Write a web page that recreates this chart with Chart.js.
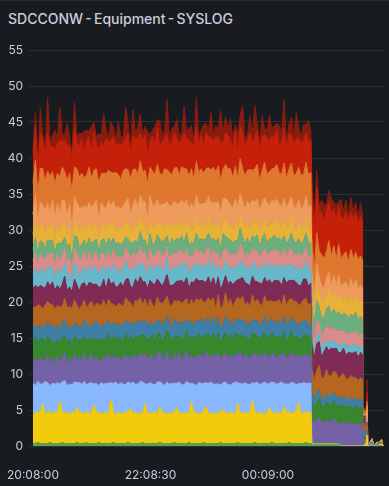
<!DOCTYPE html>
<html>
<head>
<meta charset="utf-8">
<script src="https://cdn.jsdelivr.net/npm/chart.js@4.4.1/dist/chart.umd.min.js"></script>
<style>
  html, body { margin: 0; padding: 0; background: #181b1f; }
  #panel { position: relative; width: 389px; height: 486px; overflow: hidden; }
  #topline { position: absolute; left: 0; top: 0; width: 389px; height: 1px; background: #2a2d33; }
  #title { position: absolute; left: 8px; top: 10px; font: 500 14px Inter, sans-serif; word-spacing: -1.5px; color: #ccccdc; white-space: nowrap; }
  canvas { position: absolute; left: 0; top: 0; }
</style>
</head>
<body>
<div id="panel">
  <div id="topline"></div>
  <div id="title">SDCCONW - Equipment - SYSLOG</div>
  <canvas id="syslogChart" width="389" height="486"></canvas>
</div>
<script>
// sample times, seconds after 20:08:00
const seg1Times = [];
for (let t = 0; t <= 17100; t += 150) seg1Times.push(t);
const seg2Times = [];
for (let t = 17160; t <= 20160; t += 150) seg2Times.push(t);
seg2Times.push(20250);
const tailTimes = [20280, 20370, 20430, 20490, 20550, 20610, 20700, 20850, 21000, 21150, 21300, 21450, 21540];
const times = seg1Times.concat(seg2Times, tailTimes);

const xTickValues = [0, 7230, 14460];
const xTickLabels = ['20:08:00', '22:08:30', '00:09:00'];

// series, bottom of the stack first
const green0 = [
  0.4,0.4,0.5,0.4,0.3,0.4,0.4,0.5,0.4,0.4, 0.3,0.4,0.5,0.4,0.4,0.4,0.3,0.4,0.5,0.4, 0.4,0.4,0.5,0.3,0.4,0.4,0.4,0.5,0.4,0.3,
  0.4,0.4,0.4,0.5,0.4,0.4,0.3,0.4,0.4,0.5, 0.4,0.4,0.4,0.3,0.4,0.5,0.4,0.4,0.4,0.4, 0.3,0.4,0.5,0.4,0.4,0.4,0.4,0.4,0.5,0.4,
  0.4,0.3,0.4,0.4,0.5,0.4,0.4,0.4,0.3,0.4, 0.5,0.4,0.4,0.4,0.4,0.3,0.4,0.5,0.4,0.4, 0.4,0.4,0.3,0.4,0.5,0.4,0.4,0.4,0.4,0.3,
  0.4,0.5,0.4,0.4,0.4,0.3,0.4,0.4,0.5,0.4, 0.4,0.4,0.4,0.3,0.4,0.5,0.4,0.4,0.4,0.4, 0.3,0.4,0.5,0.4,0.4,
  0.3,0.3,0.3,0.3,0.3,0.3,0.3,0.3,0.3,0.3,0.3,0.3,0,0,0,0,0,0,0,0,0,0,
  0,0,0,0,0,0,0,0.2,0,0,0.2,0,0];
const yellow = [
  4.2,4.1,4.3,4.2,5.6,4.1,4.2,4.3,4.0,4.4, 4.2,5.9,4.1,4.3,4.2,4.1,4.3,4.2,4.9,4.3, 4.2,4.1,4.4,4.2,4.1,5.3,4.2,4.3,4.0,4.2,
  4.3,4.1,6.1,4.2,4.0,4.3,4.2,4.1,4.4,4.2, 4.8,4.1,4.3,4.2,4.0,4.2,5.5,4.3,4.1,4.2, 4.4,4.1,5.0,4.2,4.3,4.0,4.2,4.1,4.3,4.9,
  4.2,4.1,4.3,4.2,4.0,5.8,4.2,4.3,4.1,4.2, 4.4,5.1,4.2,4.0,4.3,4.1,4.2,4.3,4.7,4.2, 4.1,4.3,4.2,4.0,5.4,4.2,4.3,4.1,4.2,4.4,
  6.0,4.2,4.1,4.3,4.2,4.0,4.3,4.9,4.2,4.1, 4.3,4.2,4.0,5.2,4.2,4.3,4.1,4.2,4.4,5.6, 4.2,4.1,4.3,4.2,4.2,
  0,0,0,0,0,0,0,0,0,0,0,0,0,0,0,0,0,0,0,0,0,0,
  0,0,0.3,0,1.5,0,0,0,0,0,0,0.3,0];
const lightBlue = [
  4.1,3.9,4.2,4.0,2.7,4.5,4.2,3.6,4.3,3.8, 4.3,2.3,4.3,4.4,3.8,4.1,3.9,4.3,3.4,4.1, 4.0,4.5,3.6,4.2,4.3,2.9,4.1,3.6,4.4,4.1,
  4.0,4.2,2.3,4.0,4.5,3.8,4.3,4.1,3.7,4.2, 3.5,4.4,3.9,4.1,4.6,4.2,2.7,3.9,4.3,4.0, 3.8,4.4,3.4,4.1,3.7,4.5,4.0,4.2,3.9,3.4,
  4.3,4.1,3.8,4.4,4.2,2.5,4.0,3.7,4.4,4.1, 3.8,3.3,4.1,4.5,3.9,4.2,4.0,3.7,3.7,4.3, 4.0,3.8,4.2,4.5,2.9,4.1,3.9,4.3,4.0,3.8,
  2.4,4.0,4.4,3.8,4.1,4.6,3.9,3.4,4.2,4.3, 3.9,4.1,4.5,3.1,4.0,3.8,4.3,4.2,3.7,2.7, 4.2,4.3,3.9,4.1,4.2,
  0,0,0,0,0,0,0,0,0,0,0,0,0,0,0,0,0,0,0,0,0,0,
  0,0,0,0,0,0,0,0,0,0,0,0,0];
const purple = [
  3.1,3.8,2.9,3.6,3.3,2.7,3.9,3.2,3.5,2.8, 3.7,3.0,3.4,3.9,2.9,3.6,3.2,3.8,3.0,3.5, 3.3,3.9,3.1,3.6,4.0,3.2,3.7,3.4,3.0,3.8,
  3.5,4.1,3.2,3.7,3.4,3.9,3.1,3.6,4.2,3.3, 3.8,3.5,4.1,3.2,3.9,3.6,4.3,3.4,3.7,4.0, 3.3,3.9,4.2,3.5,3.8,4.4,3.6,3.2,4.0,3.7,
  4.1,3.4,3.8,4.3,3.6,3.9,3.5,4.2,3.7,4.0, 3.6,4.4,3.8,3.5,4.1,3.9,4.3,3.4,3.8,4.0, 3.7,4.2,3.5,4.0,3.8,4.4,3.6,3.9,4.1,3.5,
  3.9,4.3,3.6,4.0,3.7,4.2,3.8,3.5,4.1,3.9, 3.6,4.0,3.8,4.3,3.5,3.9,4.2,3.7,4.0,3.6, 3.9,3.7,4.1,3.8,3.6,
  3.4,3.0,3.3,3.6,3.1,2.9,3.3,3.0,3.2,3.5,3.1,2.8,3.2,3.4,3.0,3.3,3.1,2.9,3.2,3.0,3.1,3.0,
  0,1.0,0.2,0,0.3,0,0,0,0,0,0,0,0];
const green = [
  2.5,2.9,2.2,2.7,3.1,2.4,2.6,3.0,2.3,2.8, 2.2,2.9,2.6,2.3,3.0,2.7,2.1,2.6,2.9,2.4, 2.7,2.3,3.1,2.6,2.2,2.9,2.5,2.8,3.1,2.3,
  2.6,2.9,2.2,2.8,2.4,3.0,2.6,2.3,2.9,2.5, 2.8,2.2,2.7,3.1,2.4,2.9,2.3,2.7,2.6,3.0, 2.4,2.8,2.5,2.2,2.9,2.7,3.1,2.4,2.6,2.8,
  2.3,3.0,2.6,2.8,2.2,2.7,2.9,2.5,3.1,2.4, 2.7,2.3,2.9,2.6,3.0,2.4,2.8,2.2,2.6,2.9, 2.5,2.8,2.3,3.0,2.7,2.4,2.9,2.6,2.2,2.8,
  3.0,2.5,2.7,2.3,2.9,2.6,2.4,3.1,2.7,2.5, 2.8,2.4,2.6,3.0,2.3,2.7,2.9,2.5,2.8,2.6, 2.4,2.9,2.6,2.7,2.5,
  2.5,2.1,2.4,2.7,2.2,2.0,2.6,2.3,2.2,2.5,2.1,2.4,2.6,2.2,2.3,2.0,2.5,2.2,2.4,2.1,2.3,2.2,
  0,0.4,0,0,0.2,0,0,0,0,0,0,0,0];
const teal = [
  2.1,1.7,2.3,1.9,1.6,2.4,2.0,1.8,2.5,1.9, 2.2,1.6,2.1,2.4,1.8,2.0,2.3,1.7,2.2,1.9, 1.8,2.4,2.0,1.6,2.2,1.9,2.5,2.1,1.7,2.3,
  2.0,1.8,2.4,1.9,2.2,1.6,2.1,2.3,1.8,2.5, 1.9,2.2,1.7,2.4,2.0,1.8,2.3,1.9,2.1,1.6, 2.3,2.0,1.8,2.5,1.9,2.2,1.7,2.1,2.4,1.8,
  2.0,2.3,1.9,1.7,2.4,2.1,1.8,2.2,2.0,2.5, 1.8,2.1,2.4,1.9,2.2,1.7,2.3,2.0,1.8,2.2, 2.4,1.9,2.1,1.7,2.3,2.0,2.5,1.8,2.2,1.9,
  2.1,1.8,2.3,2.0,1.6,2.4,1.9,2.2,2.0,1.8, 2.3,2.1,1.7,2.2,2.4,1.9,2.0,2.3,1.8,2.1, 1.9,2.2,2.0,1.8,2.1,
  1.3,1.0,1.4,1.2,0.9,1.3,1.1,1.5,1.0,1.2,1.4,1.1,1.0,1.3,1.2,0.9,1.3,1.1,1.2,1.0,1.2,1.1,
  0,0.6,0,0,0.3,0,0.2,0.3,0,0.2,0.3,0.2,0];
const brown = [
  2.9,2.5,3.2,2.7,2.4,3.1,2.8,3.3,2.6,2.9, 2.6,3.2,2.4,2.8,3.1,2.5,3.0,3.3,2.7,2.4, 3.1,2.7,2.5,3.2,2.9,2.6,2.4,3.0,2.8,3.3,
  2.5,2.9,3.2,2.6,2.4,2.8,3.1,2.5,3.2,2.9, 2.7,2.4,3.1,2.8,3.3,2.5,2.9,2.6,3.2,2.4, 2.8,3.1,2.5,2.9,3.2,2.6,2.7,3.0,2.5,3.1,
  2.9,2.6,3.3,2.7,2.4,3.0,2.8,3.2,2.6,2.9, 3.1,2.5,2.8,3.2,2.7,2.4,3.0,2.9,2.6,3.3, 2.6,3.0,2.7,2.5,3.1,2.8,3.2,2.4,2.9,2.7,
  3.2,2.6,2.9,3.0,2.5,2.8,3.3,2.7,2.4,3.0, 2.8,3.1,2.5,2.9,2.7,3.2,2.6,2.8,3.0,2.5, 2.9,2.7,3.1,2.6,2.8,
  3.2,2.7,3.1,3.4,2.8,3.0,3.3,2.6,3.1,2.9,3.3,2.7,3.0,3.2,2.8,3.1,2.9,3.3,2.7,3.0,2.9,3.0,
  0,1.2,0.2,0,0.6,0,0,0,0,0,0,0,0];
const maroon = [
  2.6,3.0,2.4,2.8,3.1,2.3,2.7,2.5,3.2,2.6, 2.8,2.5,3.0,3.1,2.4,2.7,2.3,2.9,2.8,2.5, 3.0,2.4,2.8,3.0,2.5,3.2,2.7,2.3,2.8,2.9,
  2.4,2.9,2.6,3.1,2.7,2.4,3.0,2.8,2.5,3.2, 2.3,2.8,3.0,2.5,2.9,3.1,2.4,2.7,2.6,3.0, 3.1,2.5,2.8,2.4,2.7,3.0,2.6,2.9,2.3,2.8,
  2.7,3.2,2.5,2.9,2.6,2.4,3.1,2.8,2.7,2.5, 3.0,2.6,2.9,2.3,2.8,3.1,2.5,2.7,3.0,2.4, 2.8,2.5,3.1,2.7,2.4,2.9,2.6,3.2,2.5,2.8,
  2.6,3.0,2.4,2.8,3.1,2.5,2.7,2.9,2.4,3.0, 2.9,2.6,2.8,2.4,3.1,2.7,2.5,2.9,2.6,2.8, 2.5,2.9,2.7,2.6,2.8,
  3.5,3.1,3.7,3.3,3.0,3.6,3.2,3.5,3.8,3.1,3.4,3.6,3.2,3.5,3.3,3.7,3.1,3.4,3.6,3.2,3.5,3.4,
  0,1.0,0,0,0.4,0,0,0,0,0,0,0,0];
const cyan = [
  2.0,2.4,1.7,2.2,2.5,1.8,2.1,2.6,1.9,1.6, 2.2,2.5,1.8,2.0,2.4,1.9,1.6,2.2,2.6,2.0, 1.8,2.3,1.9,2.2,1.7,2.5,2.0,1.8,2.4,1.9,
  2.2,1.7,2.0,2.5,1.8,2.3,1.9,2.1,2.6,1.7, 2.0,2.4,1.8,2.2,1.9,2.5,2.1,1.7,2.3,2.0, 2.2,1.8,2.5,2.0,1.9,2.3,1.7,2.1,2.4,1.9,
  2.1,2.5,1.8,2.2,2.0,1.7,2.4,2.1,1.9,2.3, 1.8,2.2,2.5,1.9,2.1,2.4,1.7,2.0,2.3,1.9, 2.4,1.8,2.1,2.2,1.7,2.5,2.0,1.9,2.3,2.1,
  1.9,2.3,2.0,1.8,2.4,2.1,1.7,2.2,2.5,2.0, 2.2,1.9,2.4,2.0,1.8,2.3,2.1,1.7,2.2,2.4, 2.0,1.8,2.3,2.1,1.9,
  1.1,0.8,1.2,0.9,1.3,0.8,1.0,1.2,0.9,1.1,0.7,1.0,1.2,0.9,1.1,0.8,1.0,1.2,0.9,1.0,1.1,1.0,
  0,0,0,0,0,0,0,0,0,0,0,0,0];
const pink = [
  1.8,2.2,1.6,2.1,1.5,2.3,1.9,1.7,2.2,1.8, 2.1,1.6,2.3,1.9,1.7,2.2,1.6,2.0,1.9,2.4, 1.7,2.1,1.8,2.2,1.5,1.9,2.3,1.8,2.1,1.6,
  2.2,1.9,1.6,2.1,2.4,1.8,1.7,2.2,1.9,2.0, 1.8,2.3,1.6,2.0,2.2,1.5,2.1,1.8,2.3,1.9, 1.7,2.1,1.9,2.2,1.8,1.6,2.0,2.3,1.8,2.1,
  2.2,1.7,2.0,1.8,2.4,1.9,1.6,2.1,2.0,1.8, 1.9,2.3,1.7,2.1,1.8,2.2,1.6,2.0,2.3,1.9, 2.1,1.8,2.2,1.6,2.0,2.4,1.9,1.7,2.1,2.2,
  1.8,2.0,2.3,1.7,2.1,1.9,2.2,1.6,2.0,2.3, 1.9,2.2,1.7,2.1,2.0,1.8,2.3,1.9,1.7,2.1, 2.0,1.8,2.2,1.9,2.0,
  1.9,1.6,2.1,1.7,1.5,2.0,1.8,2.2,1.6,1.9,1.7,2.1,1.8,1.5,2.0,1.7,1.9,1.6,2.0,1.8,1.6,1.8,
  0,0,0,0,0.5,0,0,0.5,0,0,0,0,0];
const lightGreen = [
  1.7,2.1,1.5,1.9,2.2,1.4,1.8,2.0,1.6,1.9, 1.6,2.2,1.8,1.5,2.0,1.9,1.4,1.8,2.2,1.7, 1.9,1.5,2.1,1.8,2.3,1.6,1.9,1.5,1.8,2.1,
  1.7,2.0,2.2,1.5,1.8,2.0,1.6,1.9,1.4,1.8, 2.1,1.6,1.9,1.5,2.2,1.8,1.6,2.0,1.9,1.5, 1.8,2.2,1.6,1.9,2.0,1.5,1.8,2.1,1.7,1.9,
  1.5,2.0,1.8,2.2,1.6,1.9,1.4,2.1,1.8,1.7, 2.0,1.6,1.9,2.2,1.5,1.8,2.0,1.7,2.3,1.6, 1.8,2.1,1.5,1.9,1.7,2.2,1.6,1.8,2.0,1.5,
  1.9,1.7,2.2,1.6,1.8,2.1,1.5,1.9,1.8,2.0, 1.6,1.9,2.1,1.7,1.8,1.5,2.2,1.8,1.6,2.0, 1.8,1.6,1.9,2.0,1.7,
  2.5,2.1,2.7,2.3,2.6,2.0,2.4,2.8,2.2,2.5,2.3,2.7,2.1,2.4,2.6,2.2,2.5,2.3,2.6,2.4,2.3,2.3,
  0,0,0,0,0,0,0,0,0,0,0,0,0];
const gold = [
  2.0,2.4,1.7,2.2,2.5,1.8,2.1,1.6,2.4,2.0, 2.3,1.8,2.5,2.1,1.7,2.2,1.9,2.4,1.8,2.1, 2.5,1.7,2.0,2.3,1.8,2.4,2.1,1.7,2.3,2.0,
  1.9,2.4,2.1,2.5,1.7,2.0,2.3,1.8,2.1,2.4, 1.7,2.0,2.3,2.1,1.8,2.5,2.0,1.7,2.3,2.2, 2.4,1.8,2.0,2.3,1.7,2.1,2.4,1.9,2.2,2.0,
  1.8,2.3,2.1,1.7,2.5,2.0,1.9,2.4,1.8,2.2, 2.1,1.7,2.4,2.0,2.2,1.8,2.5,1.9,2.1,2.3, 1.9,2.2,1.8,2.4,2.0,1.7,2.3,2.1,1.9,2.5,
  2.2,1.8,2.1,2.4,1.7,2.0,2.3,1.9,2.2,1.8, 2.4,2.0,1.7,2.2,2.1,1.9,2.4,1.8,2.0,2.3, 2.1,1.9,2.2,2.0,2.1,
  2.3,1.9,2.5,2.0,2.4,2.2,1.8,2.5,2.1,2.3,2.0,2.4,2.2,1.9,2.3,2.1,2.5,2.0,2.2,2.4,2.1,2.1,
  0,0,0,0,1.2,0,0,0,0,0.3,0,0.4,0];
const salmon = [
  2.8,3.4,2.6,3.2,2.7,3.5,3.0,2.5,3.3,2.9, 3.2,2.6,3.4,3.0,2.7,3.3,2.5,3.1,2.9,3.5, 2.7,3.1,3.3,2.6,3.2,2.8,3.4,2.7,3.0,2.5,
  3.3,2.8,3.1,2.6,3.4,3.0,2.7,3.3,2.9,3.2, 2.6,3.1,3.5,2.8,3.2,2.9,3.3,2.5,3.0,3.4, 2.9,3.2,2.6,3.0,3.3,2.7,3.1,2.8,3.4,2.9,
  3.1,2.7,3.3,2.9,2.6,3.4,3.0,2.8,3.2,2.6, 3.0,3.3,2.7,3.1,2.9,3.5,2.6,3.2,2.8,3.0, 3.3,2.8,3.0,3.4,2.7,3.1,2.9,2.6,3.2,3.0,
  2.8,3.2,2.9,2.6,3.3,3.0,3.4,2.7,3.1,2.9, 3.2,2.7,3.1,3.0,2.8,3.3,2.6,3.1,2.9,3.2, 2.8,3.1,2.9,3.0,3.1,
  2.4,2.0,2.6,2.1,2.3,1.9,2.5,2.2,2.0,2.4,2.1,2.6,1.9,2.3,2.2,2.0,2.4,2.1,2.3,2.0,2.2,2.1,
  0,0.3,0,0,0.6,0,0,0,0,0,0,0,0];
const orange = [
  4.3,4.9,4.0,4.7,5.0,4.1,4.5,4.8,3.9,4.6, 4.2,4.9,4.5,4.0,4.8,4.3,5.0,4.1,4.7,4.2, 4.8,3.9,4.5,4.9,4.1,4.7,4.3,5.0,4.0,4.6,
  4.8,4.2,4.6,3.9,4.9,4.4,4.1,4.8,4.5,4.0, 4.7,5.0,4.2,4.5,4.8,4.1,4.4,4.9,3.9,4.6, 4.3,4.8,4.5,4.1,4.9,4.4,4.7,4.2,4.6,5.0,
  4.0,4.6,4.9,4.3,4.5,4.8,4.1,4.7,4.4,4.9, 4.2,4.7,4.0,4.6,4.8,4.3,5.0,4.4,4.1,4.7, 4.5,4.9,4.2,4.6,4.0,4.8,4.4,4.7,4.3,4.9,
  4.1,4.6,4.8,4.2,4.5,4.9,4.0,4.7,4.4,4.6, 4.8,4.3,4.5,4.9,4.1,4.6,4.7,4.2,4.8,4.4, 4.6,4.3,4.7,4.5,4.6,
  4.6,3.8,4.3,3.6,4.2,4.0,3.7,4.4,3.9,4.1,3.6,4.3,3.8,4.0,4.2,3.7,4.1,3.9,3.8,4.0,4.1,3.9,
  0,0.5,0,0,0.6,0,0,0,0,0,0,0,0];
const red = [
  4.0,4.7,3.4,5.0,4.2,3.7,5.2,4.3,3.5,4.8, 4.1,5.1,3.6,4.4,4.9,3.8,4.5,5.3,3.7,4.3, 4.8,3.5,5.0,4.2,3.9,5.2,3.6,4.7,4.4,3.8,
  4.9,4.0,4.5,5.1,3.7,4.3,4.8,3.9,4.4,5.0, 3.6,4.7,4.1,5.2,3.8,4.4,4.9,4.0,3.5,4.8, 4.3,5.1,3.9,4.5,4.2,4.9,3.7,4.6,5.0,4.1,
  4.4,3.8,4.9,4.2,5.1,3.6,4.5,4.8,4.0,4.7, 3.9,5.0,4.3,4.6,3.7,4.8,4.2,5.2,3.8,4.5, 4.7,4.0,4.4,5.0,3.6,4.6,4.9,4.1,4.3,5.1,
  3.8,4.5,4.8,4.0,4.7,3.9,5.0,4.3,4.6,4.2, 4.9,3.7,4.4,4.8,4.1,5.1,3.9,4.5,4.7,4.2, 4.4,4.8,4.1,4.6,4.5,
  6.4,5.8,6.1,5.4,5.9,5.2,5.7,5.5,6.0,5.1,5.6,5.3,5.8,5.0,5.5,5.7,5.2,5.6,5.4,5.1,5.5,5.4,
  0,0.3,0,0,1.2,0,0,0,0,0,0,0,0];
const darkRed = [
  0.6,1.9,0.8,3.4,0.7,1.2,5.0,0.8,1.5,2.7, 0.9,4.6,1.1,0.7,3.0,1.3,0.8,3.6,1.0,1.7, 0.7,2.9,1.2,0.9,3.3,1.4,0.8,2.2,1.0,4.4,
  1.1,0.7,2.5,1.3,0.9,3.1,1.2,0.8,4.2,1.5, 0.9,3.6,1.0,1.4,2.7,0.8,1.2,3.2,1.0,0.9, 2.3,1.1,3.5,0.8,1.3,4.8,1.0,1.9,0.7,2.6,
  1.2,0.8,3.8,1.0,1.5,2.4,0.9,4.1,1.1,0.7, 2.8,1.3,0.9,3.4,1.0,1.6,0.8,4.5,1.2,2.1, 0.9,3.0,1.1,0.7,2.6,1.4,3.9,1.0,0.8,2.3,
  1.2,4.3,0.9,1.5,2.8,0.8,1.1,3.5,1.0,1.7, 0.8,2.9,1.3,4.0,0.9,1.2,2.5,1.0,3.7,1.4, 0.9,2.2,1.1,3.0,1.2,
  1.9,1.0,2.6,0.9,1.7,2.3,0.8,1.5,2.1,1.0,1.8,0.7,2.4,1.1,1.6,0.9,2.0,1.2,1.5,0.8,1.9,1.1,
  0,0,0,0,1.8,0,0,0,0,0,0,0,0];

const series = [green0, yellow, lightBlue, purple, green, teal, brown, maroon, cyan, pink, lightGreen, gold, salmon, orange, red, darkRed];
const colors = ['#5da34f', '#f2cc0c', '#8ab8ff', '#7561a5', '#37872d', '#3f7fa5', '#b5661f', '#7f2b55',
                '#68b8cc', '#d98c89', '#6dae7e', '#e8b23a', '#ee9b5d', '#e0772e', '#c4200a', '#8a1c0e'];

const textColor = '#ccccdc';
const tickFont = { family: 'Inter', size: 12 };

const ctx = document.getElementById('syslogChart');

new Chart(ctx, {
    type: 'line',
    data: {
        labels: times,
        datasets: series.map((values, i) => ({
            data: values,
            borderColor: colors[i],
            backgroundColor: colors[i],
            borderWidth: i === 0 ? 0 : 1,
            pointRadius: 0,
            tension: 0,
            fill: i === 0 ? 'origin' : '-1'
        }))
    },
    options: {
        responsive: false,
        animation: false,
        layout: { padding: { top: 50, right: 5, left: 0, bottom: 0 } },
        plugins: {
            legend: { display: false },
            tooltip: { enabled: false }
        },
        scales: {
            x: {
                type: 'linear',
                min: -246,
                max: 21600,
                grid: { display: false },
                border: { display: false },
                afterBuildTicks: scale => {
                    scale.ticks = xTickValues.map(v => ({ value: v }));
                },
                afterFit: scale => {
                    scale.height = 40;
                    scale.paddingLeft = 0;
                    scale.paddingRight = 0;
                },
                ticks: {
                    color: textColor,
                    font: tickFont,
                    padding: 14,
                    maxRotation: 0,
                    callback: (value) => xTickLabels[xTickValues.indexOf(value)]
                }
            },
            y: {
                stacked: true,
                min: 0,
                max: 55,
                grid: { color: 'rgba(204, 204, 220, 0.12)', drawTicks: false },
                border: { display: false },
                afterFit: scale => { scale.width = 29; },
                ticks: {
                    stepSize: 5,
                    color: textColor,
                    font: tickFont,
                    padding: 6
                }
            }
        }
    }
});
</script>
</body>
</html>
